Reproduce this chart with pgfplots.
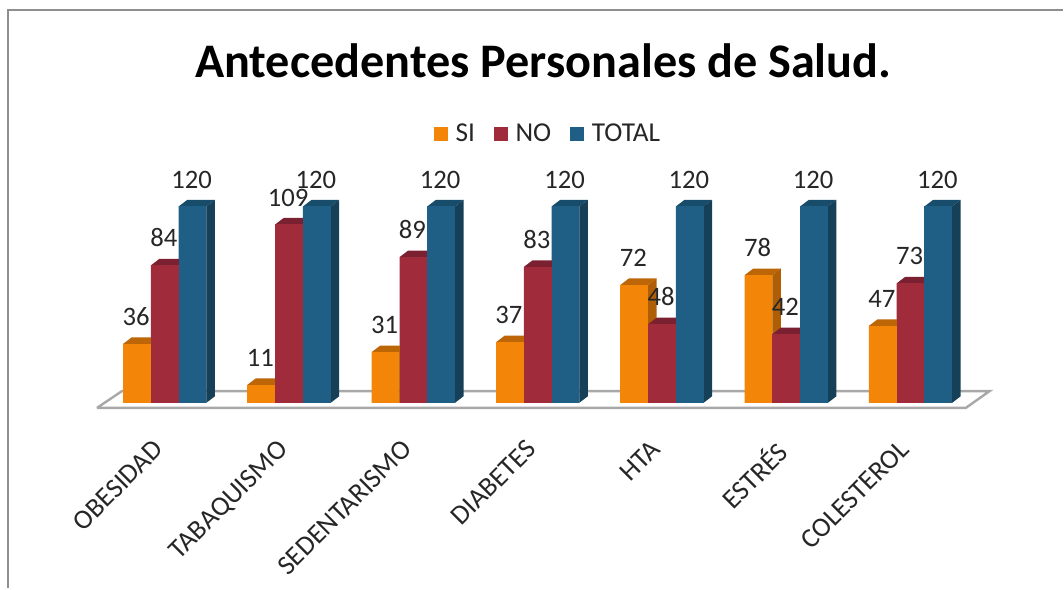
\documentclass[border=0pt]{standalone}
\usepackage{pgfplots}
\usepackage{pgfplotstable}
\usepackage{fontspec}
\setmainfont{Carlito}
\pgfplotsset{compat=1.18}
\definecolor{cSI}{HTML}{F38508}\definecolor{cSIt}{HTML}{BD6607}\definecolor{cSIs}{HTML}{B05E06}
\definecolor{cNO}{HTML}{A02B3B}\definecolor{cNOt}{HTML}{7B2030}\definecolor{cNOs}{HTML}{752030}
\definecolor{cTO}{HTML}{1F5F86}\definecolor{cTOt}{HTML}{174C6B}\definecolor{cTOs}{HTML}{163F58}
\definecolor{txt}{HTML}{262626}\definecolor{frame}{HTML}{8E8E8E}\definecolor{floorc}{HTML}{A8A8A8}
% value table: group index and the three series
\pgfplotstableread{
x SI NO TOTAL
0 36 84 120
1 11 109 120
2 31 89 120
3 37 83 120
4 72 48 120
5 78 42 120
6 47 73 120
}\datatable
% faces of a bar, drawn at the bar's top-centre point; \val is the bar value
\newcommand\declaredepth[4]{%
 \pgfdeclareplotmark{#1}{%
  \pgfmathsetlengthmacro\hh{\val*1.2285pt}%
  \pgfsetcolor{#2}%
  \pgfpathmoveto{\pgfpoint{-10.42pt}{0pt}}%
  \pgfpathlineto{\pgfpoint{-4.045pt}{4.875pt}}%
  \pgfpathlineto{\pgfpoint{16.8pt}{4.875pt}}%
  \pgfpathlineto{\pgfpoint{10.42pt}{0pt}}%
  \pgfpathclose
  \pgfusepathqfill
  \pgfsetcolor{#3}%
  \pgfpathmoveto{\pgfpoint{10.42pt}{0pt}}%
  \pgfpathlineto{\pgfpoint{16.8pt}{4.875pt}}%
  \pgfpathlineto{\pgfpoint{16.8pt}{\dimexpr4.875pt-\hh\relax}}%
  \pgfpathlineto{\pgfpoint{10.42pt}{-\hh}}%
  \pgfpathclose
  \pgfusepathqfill
  \pgfsetcolor{#4}%
  \pgfpathrectanglecorners{\pgfpoint{-10.42pt}{-\hh}}{\pgfpoint{10.42pt}{0pt}}%
  \pgfusepathqfill
 }}
\declaredepth{depthSI}{cSIt}{cSIs}{cSI}
\declaredepth{depthNO}{cNOt}{cNOs}{cNO}
\declaredepth{depthTO}{cTOt}{cTOs}{cTO}
\pgfplotsset{
 depth/.style 2 args={forget plot,only marks,scatter,mark=#1,
   scatter/@pre marker code/.code={},scatter/@post marker code/.code={},
   visualization depends on={\thisrow{#2} \as \val}},
 front/.style={forget plot,ybar,bar width=0.2234,draw=none,fill=#1},
 vlabel/.style={forget plot,draw=none,mark=none,nodes near coords,
   every node near coord/.append style={anchor=south,inner sep=0pt,yshift=13.5pt,xshift=-0.7pt,
   font=\fontsize{20}{20}\selectfont,text=txt}},
 legend image code/.code={\fill[#1,draw=none] (0pt,-5.2pt) rectangle (10.5pt,5.3pt);}
}
\begin{document}
\begin{tikzpicture}
\begin{axis}[
 scale only axis,width=750pt,height=150pt,
 xmin=-0.924,xmax=7.111,ymin=0,ymax=122.1,
 clip=false,
 /pgf/number format/assume math mode=true,
 axis line style={draw=none},tick style={draw=none},
 ytick=\empty,xtick={0,1,2,3,4,5,6},
 xticklabels={OBESIDAD,TABAQUISMO,SEDENTARISMO,DIABETES,HTA,ESTRÉS,COLESTEROL},
 x tick label style={xshift=-9.5pt,yshift=-26.5pt,rotate=45,anchor=north east,inner sep=0pt,
   font=\fontsize{20.6}{21}\selectfont,text=txt},
 legend columns=3,
 legend style={at={(axis cs:3.085,164.2)},anchor=center,draw=none,fill=none,inner sep=0pt,
   font=\fontsize{20.5}{21}\selectfont,text=txt,
   /tikz/every even column/.append style={column sep=12pt},
   /tikz/every odd column/.append style={column sep=4pt}},
]
% frame, outer page corners and floor
\path (axis cs:-1.3258,246.2) rectangle (axis cs:7.2238,-113.4);
\draw[frame,line width=2pt] (axis cs:-1.2615,240.1) -- (axis cs:7.2238,240.1);
\draw[frame,line width=2pt] (axis cs:-1.2615,240.6) -- (axis cs:-1.2615,-113.4);
\node[font=\bfseries\fontsize{36.2}{38}\selectfont,text=black] at (axis cs:3.045,209.3) {Antecedentes Personales de Salud.};
\addlegendimage{fill=cSI}\addlegendentry{SI}
\addlegendimage{fill=cNO}\addlegendentry{NO}
\addlegendimage{fill=cTO}\addlegendentry{TOTAL}
\addplot[forget plot,draw=floorc,line width=1.8pt,fill=white,line join=miter] coordinates
 {(-0.546,-3.17) (6.444,-3.17) (6.635,7.08) (-0.3455,7.08) (-0.546,-3.17)};
% SI
\addplot[front=cSI,bar shift=-0.2234] table[x=x,y=SI] {\datatable};
\addplot[depth={depthSI}{SI}] table[x expr=\thisrow{x}-0.2234,y=SI] {\datatable};
% NO
\addplot[front=cNO,bar shift=0] table[x=x,y=NO] {\datatable};
\addplot[depth={depthNO}{NO}] table[x=x,y=NO] {\datatable};
% TOTAL
\addplot[front=cTO,bar shift=0.2234] table[x=x,y=TOTAL] {\datatable};
\addplot[depth={depthTO}{TOTAL}] table[x expr=\thisrow{x}+0.2234,y=TOTAL] {\datatable};
% value labels, on top of everything
\addplot[vlabel] table[x expr=\thisrow{x}-0.2234,y=SI] {\datatable};
\addplot[vlabel] table[x=x,y=NO] {\datatable};
\addplot[vlabel] table[x expr=\thisrow{x}+0.2234,y=TOTAL] {\datatable};
\end{axis}
\end{tikzpicture}
\end{document}
